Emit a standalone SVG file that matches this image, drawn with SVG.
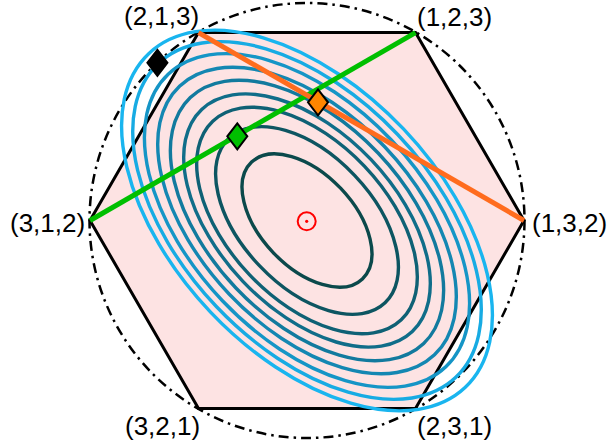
<svg xmlns="http://www.w3.org/2000/svg" width="608" height="448" viewBox="0 0 608 448">
<style>
.lbl{font-family:"Liberation Sans",Arial,sans-serif;font-size:26px;fill:#000}
.ell{fill:none;stroke-width:3.4}
.dia{stroke:#000;stroke-width:2;stroke-linejoin:miter}
</style>
<rect width="608" height="448" fill="#fff"/>
<g id="hexagon">
<polygon points="524,220.5 415.5,408.4 198.5,408.4 90,220.5 198.5,32.6 415.5,32.6" fill="#fde3e3" stroke="#000" stroke-width="3" stroke-linejoin="miter"/>
</g>
<g id="circle">
<circle cx="307" cy="220.5" r="217.5" fill="none" stroke="#000" stroke-width="2.5" stroke-dasharray="10 5 2.5 5"/>
</g>
<g id="contours" transform="rotate(46.5 307 220.5)">
<ellipse class="ell" cx="307" cy="220.5" rx="230" ry="133" stroke="#19b5ef"/>
<ellipse class="ell" cx="307" cy="220.5" rx="216.2" ry="125" stroke="#17abe3"/>
<ellipse class="ell" cx="307" cy="220.5" rx="201.7" ry="116.6" stroke="#1595c6"/>
<ellipse class="ell" cx="307" cy="220.5" rx="185.2" ry="107.1" stroke="#1487b2"/>
<ellipse class="ell" cx="307" cy="220.5" rx="169.5" ry="98" stroke="#127a9e"/>
<ellipse class="ell" cx="307" cy="220.5" rx="153" ry="88.4" stroke="#106d89"/>
<ellipse class="ell" cx="307" cy="220.5" rx="136.9" ry="79.1" stroke="#0f6175"/>
<ellipse class="ell" cx="307" cy="220.5" rx="113.4" ry="65.6" stroke="#0d5561"/>
<ellipse class="ell" cx="307" cy="220.5" rx="80.5" ry="46.6" stroke="#0b494b"/>
</g>
<g id="connectors">
<line id="green-line" x1="90" y1="220.5" x2="415.5" y2="32.6" stroke="#00bf00" stroke-width="5"/>
<line id="orange-line" x1="198.5" y1="32.6" x2="524" y2="220.5" stroke="#ff6c1e" stroke-width="5"/>
</g>
<g id="marker-black"><polygon class="dia" points="157.4,49.8 167.4,62.8 157.4,75.8 147.4,62.8" fill="#000"/></g>
<g id="marker-orange"><polygon class="dia" points="318,89.3 328,102.3 318,115.3 308,102.3" fill="#ff8500"/></g>
<g id="marker-green"><polygon class="dia" points="237.3,123.3 247.3,136.3 237.3,149.3 227.3,136.3" fill="#00bf00"/></g>
<g id="center-mark">
<circle cx="306.7" cy="221.3" r="9" fill="none" stroke="#f00" stroke-width="2"/>
<circle cx="306.7" cy="221.3" r="1.6" fill="#f00"/>
</g>
<g id="labels">
<g id="v213"><text class="lbl" x="124" y="25">(2,1,3)</text></g>
<g id="v123"><text class="lbl" x="417" y="26">(1,2,3)</text></g>
<g id="v312"><text class="lbl" x="10" y="232">(3,1,2)</text></g>
<g id="v132"><text class="lbl" x="532" y="232">(1,3,2)</text></g>
<g id="v321"><text class="lbl" x="125" y="435">(3,2,1)</text></g>
<g id="v231"><text class="lbl" x="417" y="435">(2,3,1)</text></g>
</g>
</svg>
